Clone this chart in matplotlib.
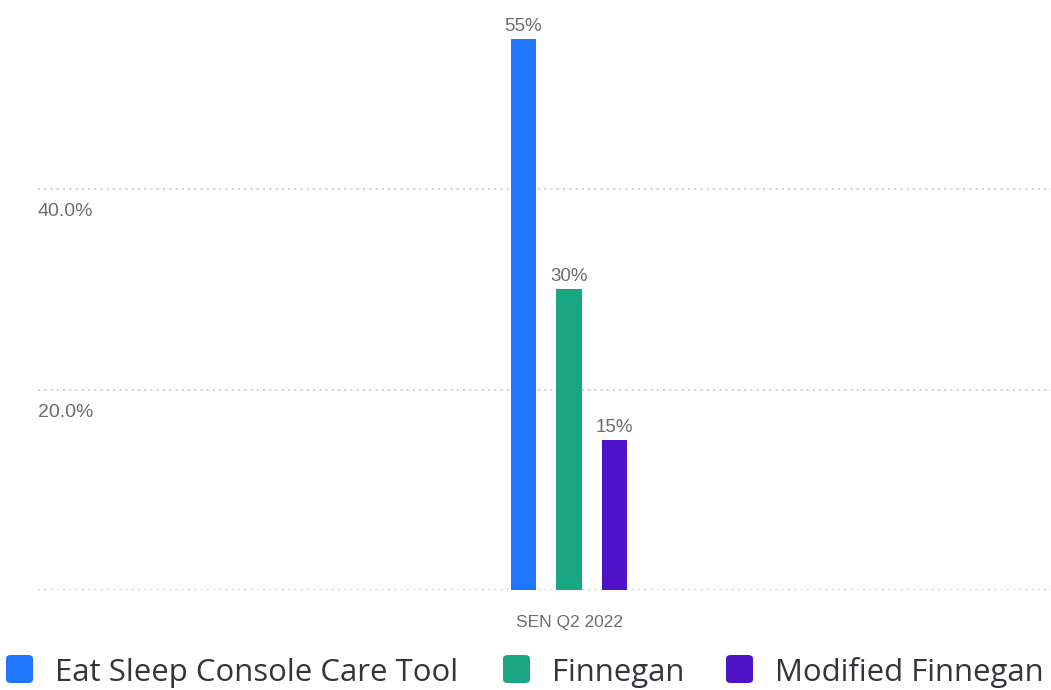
import matplotlib.pyplot as plt
from matplotlib.patches import FancyBboxPatch
from matplotlib.transforms import blended_transform_factory

plt.rcParams["font.family"] = ["Liberation Sans", "DejaVu Sans"]

category = "SEN Q2 2022"
series = ["Eat Sleep Console Care Tool", "Finnegan", "Modified Finnegan"]
values = [55, 30, 15]
colors = ["#2176ff", "#1aa683", "#5014c8"]
yticks = [20, 40]
ytick_labels = ["20.0%", "40.0%"]

W, H = 1051, 690
fig = plt.figure(figsize=(W / 100, H / 100), dpi=100)
ax = fig.add_axes([38 / W, 100 / H, (W - 38) / W, 590 / H])

offsets = [-1, 0, 1]
for off, val, col in zip(offsets, values, colors):
    ax.bar(off, val, width=0.57, color=col, zorder=3)
    ax.text(off, val + 0.8, f"{val}%", ha="center", va="baseline",
            fontsize=13.5, color="#6a6d70")

ax.set_xlim(-(569 - 38) / 45.5, (W - 569) / 45.5)
ax.set_ylim(0, 590 / 10.025)

for y in [0] + yticks:
    ax.axhline(y, color="#d2d2d2", linestyle=(0, (1, 2)), linewidth=1.5, zorder=1)

trans = blended_transform_factory(ax.transAxes, ax.transData)
for y, lab in zip(yticks, ytick_labels):
    ax.text(0, y - 2.7, lab, transform=trans, ha="left", va="baseline",
            fontsize=14, color="#6a6d70")

ax.text(0, -3.7, category, ha="center", va="baseline", fontsize=12.5, color="#6a6d70")

ax.set_xticks([])
ax.set_yticks([])
for s in ax.spines.values():
    s.set_visible(False)
ax.patch.set_alpha(0)

# legend along the bottom
legend_x = [6, 503, 726]
for x0, lab, col in zip(legend_x, series, colors):
    fig.patches.append(FancyBboxPatch(
        (x0 / W, (H - 683) / H), 27 / W, 28 / H,
        boxstyle="round,pad=0,rounding_size=0.005",
        transform=fig.transFigure, facecolor=col, edgecolor="none"))
    fig.text((x0 + 49) / W, (H - 681) / H, lab, ha="left", va="baseline",
             fontsize=22.4, color="#32363a", family=["Open Sans", "DejaVu Sans"])

fig.savefig("out.png", dpi=100)
